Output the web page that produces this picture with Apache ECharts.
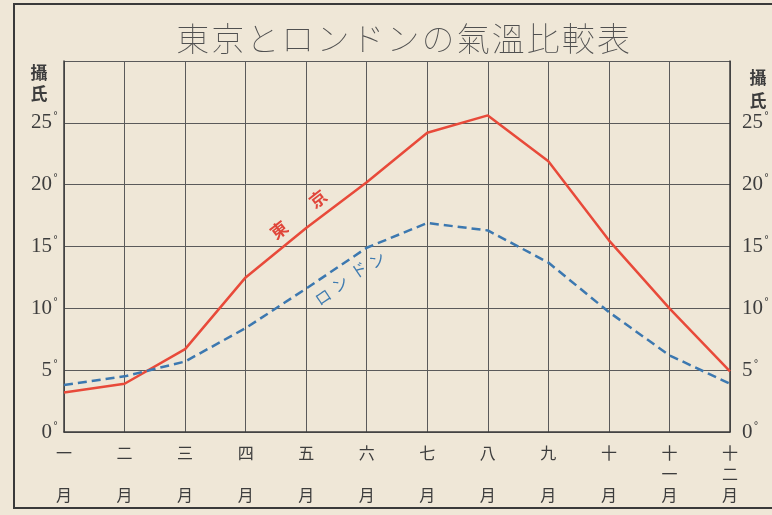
<!DOCTYPE html>
<html>
<head>
<meta charset="utf-8">
<script src="https://cdn.jsdelivr.net/npm/echarts@6/dist/echarts.min.js"></script>
<style>
  html, body { margin: 0; padding: 0; background: #efe7d7; }
  #chart { width: 772px; height: 515px; }
</style>
</head>
<body>
<div id="chart"></div>
<script>
var months = ['一月', '二月', '三月', '四月', '五月', '六月', '七月', '八月', '九月', '十月', '十一月', '十二月'];
var tokyo = [3.2, 3.9, 6.7, 12.5, 16.5, 20.2, 24.2, 25.6, 21.9, 15.5, 10.0, 4.9];
var london = [3.8, 4.5, 5.7, 8.4, 11.6, 14.9, 16.9, 16.3, 13.7, 9.7, 6.2, 3.9];
var yTicks = [0, 5, 10, 15, 20, 25];

var ink = '#3d3d3d';
var chart = echarts.init(document.getElementById('chart'));

function yLabel(v) {
  if (yTicks.indexOf(v) < 0) return '';
  return '{n|' + v + '}{d|°}';
}

var yRich = {
  n: { fontFamily: 'Liberation Serif', fontSize: 21, color: ink },
  d: { fontFamily: 'DejaVu Sans', fontSize: 10, color: ink, verticalAlign: 'top', padding: [0, 0, 12, 1] }
};

function yAxis(pos, margin) {
  return {
    type: 'value',
    position: pos,
    min: 0,
    max: 30,
    interval: 5,
    axisLine: { show: true, lineStyle: { color: ink, width: 1.5 } },
    axisTick: { show: false },
    splitLine: { show: true, lineStyle: { color: '#5a5a5a', width: 1 } },
    axisLabel: { formatter: yLabel, rich: yRich, margin: margin }
  };
}

// 東 京 / ロンドン written along the lines
function note(txt, x, y, rot, color, size, weight) {
  return {
    type: 'text', x: x, y: y, rotation: rot * Math.PI / 180,
    style: {
      text: txt, fill: color, fontSize: size, fontWeight: weight,
      fontFamily: 'Noto Sans CJK JP', align: 'center', verticalAlign: 'middle'
    }
  };
}

// spaced out like the printed heading
var titleText = '東京とロンドンの氣溫比較表'.split('').join('\u200A');

chart.setOption({
  backgroundColor: '#efe7d7',
  animation: false,
  title: {
    text: titleText,
    left: 398,
    textAlign: 'center',
    top: 17,
    textStyle: { fontFamily: 'Noto Sans CJK JP', fontSize: 33, fontWeight: 'lighter', color: '#505050' }
  },
  grid: { left: 64, right: 42, top: 61, bottom: 83 },
  xAxis: {
    type: 'category',
    data: months,
    boundaryGap: false,
    axisLine: { show: true, lineStyle: { color: ink, width: 1.5 } },
    axisTick: { show: false },
    splitLine: { show: true, lineStyle: { color: '#5a5a5a', width: 1 } },
    axisLabel: {
      interval: 0,
      margin: 10,
      color: ink,
      fontFamily: 'Noto Sans CJK JP',
      fontSize: 16,
      lineHeight: 21,
      formatter: function (m) {
        return m.length === 2 ? m[0] + '\n\n' + m[1] : m.split('').join('\n');
      }
    }
  },
  yAxis: [yAxis('left', 6), yAxis('right', 12)],
  graphic: [
    {
      type: 'rect', silent: true,
      shape: { x: 14, y: 4, width: 800, height: 504 },
      style: { fill: 'none', stroke: '#3a3a3a', lineWidth: 2 }
    },
    {
      type: 'text', x: 39, y: 62,
      style: { text: '攝\n氏', fontSize: 17, lineHeight: 21, fontWeight: 'bold', fill: ink, fontFamily: 'Noto Sans CJK JP', align: 'center' }
    },
    {
      type: 'text', x: 758, y: 66,
      style: { text: '攝\n氏', fontSize: 17, lineHeight: 23, fontWeight: 'bold', fill: ink, fontFamily: 'Noto Sans CJK JP', align: 'center' }
    },
    note('東', 279, 230, 38, '#e0463a', 17, 'bold'),
    note('京', 318, 199, 38, '#e0463a', 17, 'bold'),
    note('ロ', 323, 297, 34, '#3f7bb0', 16, 'normal'),
    note('ン', 340, 284, 34, '#3f7bb0', 16, 'normal'),
    note('ド', 359, 270, 34, '#3f7bb0', 16, 'normal'),
    note('ン', 377, 260, 34, '#3f7bb0', 16, 'normal')
  ],
  series: [
    {
      name: '東京',
      type: 'line',
      data: tokyo,
      symbol: 'none',
      lineStyle: { color: '#e84a3a', width: 2.5 },
      z: 3
    },
    {
      name: 'ロンドン',
      type: 'line',
      data: london,
      symbol: 'none',
      lineStyle: { color: '#3c78b0', width: 2.5, type: [9, 5] },
      z: 3
    }
  ]
});
</script>
</body>
</html>
